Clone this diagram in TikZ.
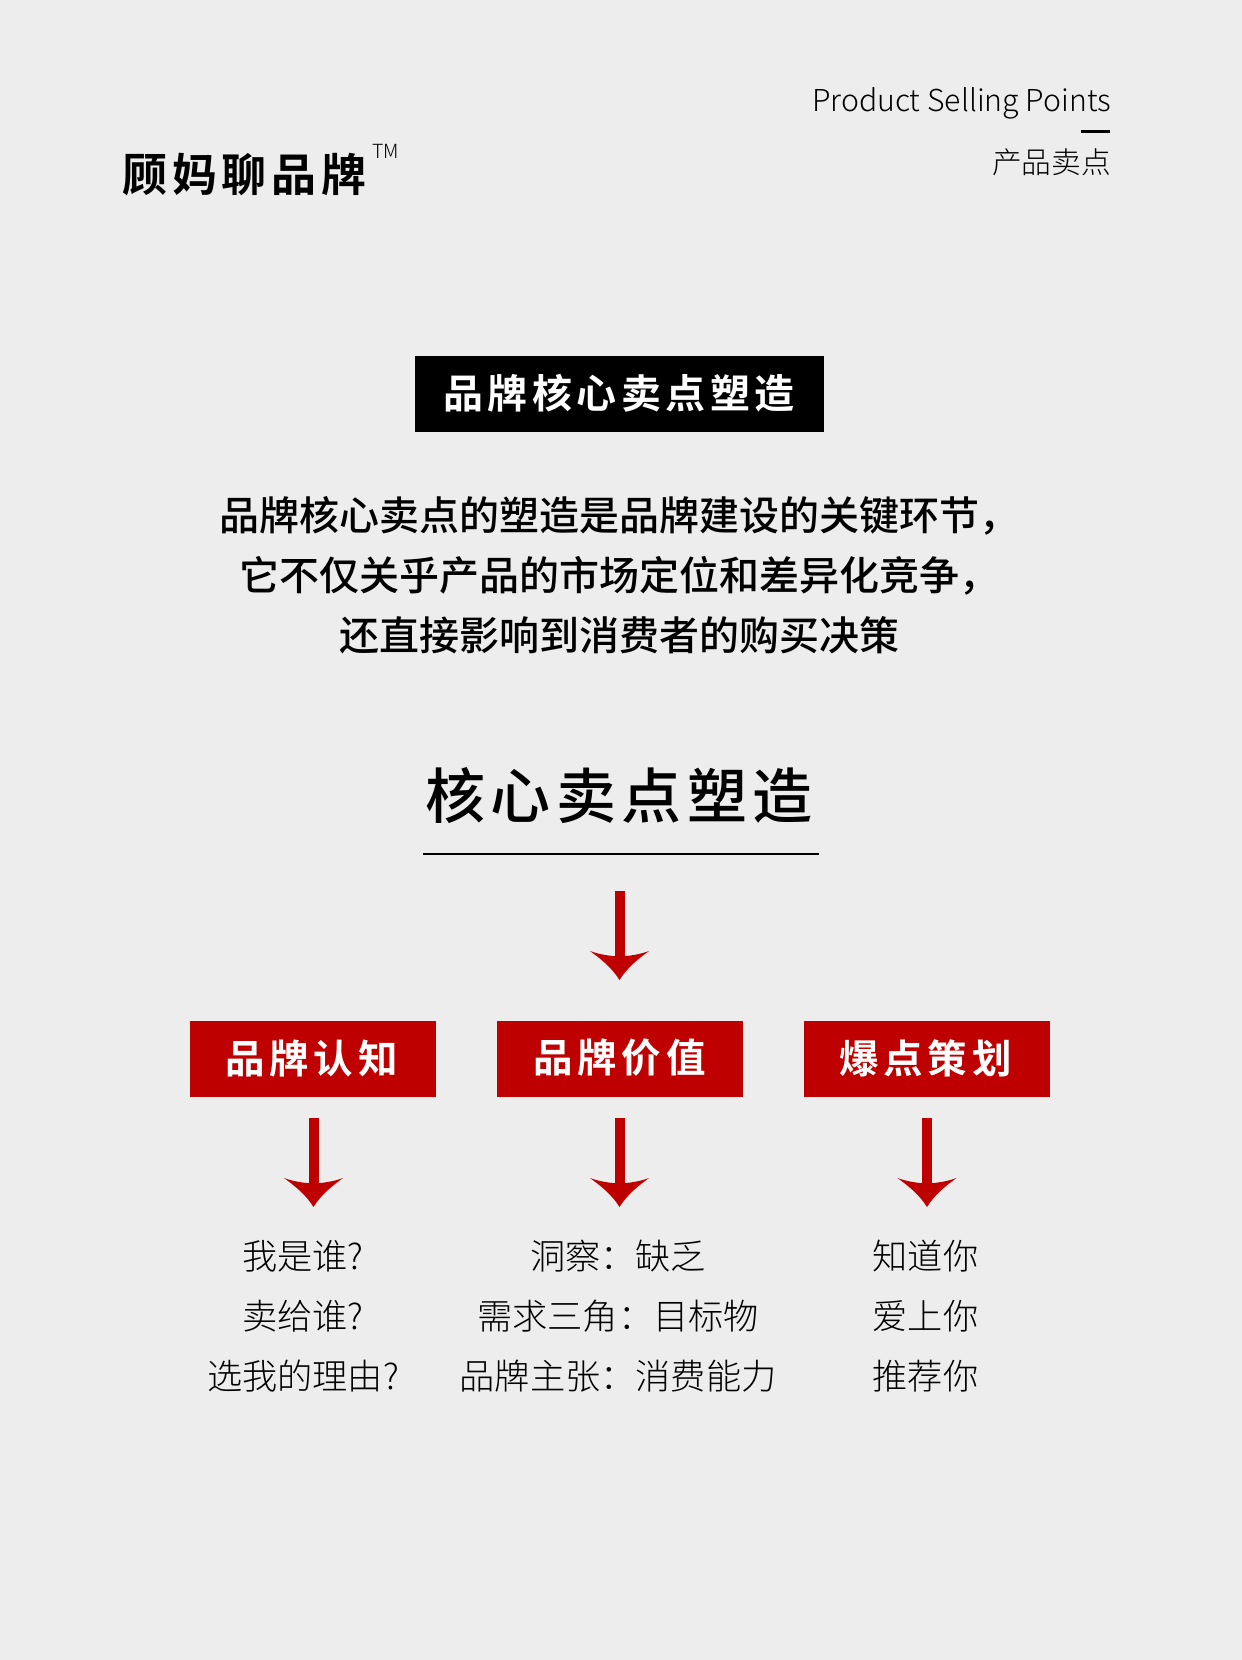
\documentclass[tikz,border=0pt]{standalone}
\usepackage{fontspec}
\setmainfont{Noto Sans CJK SC}
\newfontfamily\cjklight{Noto Sans CJK SC Light}
\newfontfamily\logofont[LetterSpace=11]{Noto Sans CJK SC Bold}
\newfontfamily\headfont[LetterSpace=11]{Noto Sans CJK SC Bold}
\newfontfamily\boxfont[LetterSpace=12]{Noto Sans CJK SC Bold}
\newfontfamily\titlefont[LetterSpace=9]{Noto Sans CJK SC Medium}
\newfontfamily\cjkmed{Noto Sans CJK SC Medium}
\definecolor{bgc}{HTML}{EDEDED}
\definecolor{redc}{HTML}{BF0000}
\pgfdeclarearrow{
  name=Bow,
  setup code={
    \pgfarrowssettipend{0pt}
    \pgfarrowssetlineend{-20pt}
    \pgfarrowssetvisualbackend{-29pt}
    \pgfarrowssetbackend{-29pt}
    \pgfarrowshullpoint{-29pt}{30pt}
    \pgfarrowshullpoint{-29pt}{-30pt}
    \pgfarrowshullpoint{0pt}{0pt}
  },
  drawing code={
    \pgfpathmoveto{\pgfqpoint{0pt}{0pt}}
    \pgfpathcurveto{\pgfqpoint{-13pt}{8pt}}{\pgfqpoint{-22pt}{20pt}}{\pgfqpoint{-29pt}{29.5pt}}
    \pgfpathcurveto{\pgfqpoint{-25.5pt}{20pt}}{\pgfqpoint{-24pt}{10pt}}{\pgfqpoint{-23.5pt}{0pt}}
    \pgfpathcurveto{\pgfqpoint{-24pt}{-10pt}}{\pgfqpoint{-25.5pt}{-20pt}}{\pgfqpoint{-29pt}{-29.5pt}}
    \pgfpathcurveto{\pgfqpoint{-22pt}{-20pt}}{\pgfqpoint{-13pt}{-8pt}}{\pgfqpoint{0pt}{0pt}}
    \pgfpathclose
    \pgfusepathqfill
  }
}
\tikzset{
  tx/.style={inner sep=0pt,outer sep=0pt,text=black},
  redbox/.style={fill=redc,minimum width=246pt,minimum height=76pt,inner sep=0pt},
  boxlabel/.style={tx,text=white,font=\boxfont\fontsize{39.5}{40}\selectfont},
  para/.style={tx,font=\cjkmed\fontsize{40}{42}\selectfont},
  conn/.style={draw=redc,line width=10pt,-{Bow[]}},
  lowtext/.style={tx,font=\cjklight\fontsize{35.2}{36}\selectfont},
}
\begin{document}
\begin{tikzpicture}[x=1pt,y=-1pt]
\useasboundingbox[fill=bgc] (0,0) rectangle (1242,1660);
\node[tx,font=\logofont\fontsize{45}{46}\selectfont] (logo) at (244.5,174.5) {顾妈聊品牌};
\node[tx,font=\cjklight\fontsize{19.5}{20}\selectfont] (tm) at (385.5,151) {TM};
\node[tx,anchor=east,font=\cjklight\fontsize{30.2}{32}\selectfont] (eng) at (1111,103) {Product Selling Points};
\node[fill=black,inner sep=0pt,minimum width=29pt,minimum height=2.5pt] (dash) at (1095.5,131.5) {};
\node[tx,anchor=east,font=\cjklight\fontsize{29.7}{30}\selectfont] (cn) at (1111,162.5) {产品卖点};
\node[fill=black,inner sep=0pt,minimum width=409pt,minimum height=76pt] (headbox) at (619.5,394) {};
\node[tx,text=white,font=\headfont\fontsize{40}{40}\selectfont] (head) at (619,393.5) {品牌核心卖点塑造};
\node[para] (p1) at (619.5,516) {品牌核心卖点的塑造是品牌建设的关键环节，};
\node[para] (p2) at (619.5,576) {它不仅关乎产品的市场定位和差异化竞争，};
\node[para] (p3) at (619.5,635) {还直接影响到消费者的购买决策};
\node[tx,font=\titlefont\fontsize{60}{60}\selectfont] (title) at (619,796) {核心卖点塑造};
\coordinate (ruleL) at (423,854);
\coordinate (ruleR) at (819,854);
\draw[line width=2.5pt,black] (ruleL) -- (ruleR);
\coordinate (a0s) at (619.5,891);
\coordinate (a0e) at (619.5,980);
\draw[conn] (a0s) -- (a0e);
\node[redbox] (b1) at (313,1059) {};
\node[redbox] (b2) at (620,1059) {};
\node[redbox] (b3) at (927,1059) {};
\node[boxlabel] (l1) at (311.5,1058) {品牌认知};
\node[boxlabel] (l2) at (619.5,1058) {品牌价值};
\node[boxlabel] (l3) at (925.5,1058) {爆点策划};
\coordinate (a1s) at (313.5,1118);\coordinate (a1e) at (313.5,1207);
\coordinate (a2s) at (619.5,1118);\coordinate (a2e) at (619.5,1207);
\coordinate (a3s) at (927,1118);\coordinate (a3e) at (927,1207);
\draw[conn] (a1s) -- (a1e);
\draw[conn] (a2s) -- (a2e);
\draw[conn] (a3s) -- (a3e);
\node[lowtext] (t11) at (303,1256) {我是谁?};
\node[lowtext] (t12) at (303,1316) {卖给谁?};
\node[lowtext] (t13) at (303,1376) {选我的理由?};
\node[lowtext] (t21) at (618,1256) {洞察：缺乏};
\node[lowtext] (t22) at (618,1316) {需求三角：目标物};
\node[lowtext] (t23) at (618,1376) {品牌主张：消费能力};
\node[lowtext] (t31) at (925.5,1256) {知道你};
\node[lowtext] (t32) at (925.5,1316) {爱上你};
\node[lowtext] (t33) at (925.5,1376) {推荐你};
\end{tikzpicture}
\end{document}
